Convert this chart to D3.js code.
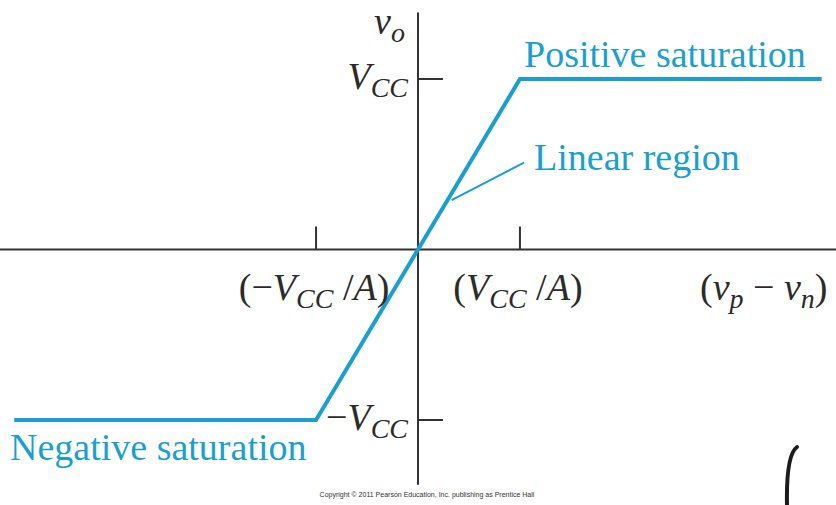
<!DOCTYPE html>
<html>
<head>
<meta charset="UTF-8">
<title>Op-amp transfer characteristic</title>
<script src="https://cdn.jsdelivr.net/npm/d3@7"></script>
<style>
  body { margin: 0; background: #fff; }
  svg { display: block; }
  .axis-line { stroke: #333; stroke-width: 2px; fill: none; }
  .lbl { font-family: "Liberation Serif", "DejaVu Serif", serif; fill: #2b2b2b; }
  .blue { font-family: "Liberation Serif", "DejaVu Serif", serif; fill: #1a9fcf; }
</style>
</head>
<body>
<div id="chart"></div>
<script>
// input (vp - vn) in units of VCC/A, output in units of VCC
var inputs  = [-3.96, -1, 1, 3.96];
var outputs = [-1, -1, 1, 1];
var xTicks = [-1, 1];
var yTicks = [1, -1];
var xTickPrefix = ["(\u2212", "("];
var yTickPrefix = ["", "\u2212"];

var width = 836, height = 505;
var lineColor = "#1a9fcf";
var fs = 38, sub = 28;

var x = d3.scaleLinear().domain([-4.1, 4.1]).range([0, 836]);
var y = d3.scaleLinear().domain([1, -1]).range([79, 420]);

var svg = d3.select("#chart").append("svg")
  .attr("width", width).attr("height", height);

/* axes */
svg.append("line").attr("class", "axis-line")
  .attr("x1", x(-4.1)).attr("x2", x(4.1))
  .attr("y1", y(0)).attr("y2", y(0));
svg.append("line").attr("class", "axis-line")
  .attr("x1", x(0)).attr("x2", x(0))
  .attr("y1", y(1.39)).attr("y2", y(-1.38));

svg.selectAll(".xtick").data(xTicks).enter().append("line")
  .attr("class", "axis-line")
  .attr("x1", function(d) { return x(d); }).attr("x2", function(d) { return x(d); })
  .attr("y1", y(0)).attr("y2", y(0) - 23);

svg.selectAll(".ytick").data(yTicks).enter().append("line")
  .attr("class", "axis-line")
  .attr("x1", x(0)).attr("x2", x(0) + 25)
  .attr("y1", function(d) { return y(d); }).attr("y2", function(d) { return y(d); });

/* transfer curve */
var pts = inputs.map(function(d, i) { return [d, outputs[i]]; });
var line = d3.line()
  .x(function(d) { return x(d[0]); })
  .y(function(d) { return y(d[1]); });

svg.append("path")
  .attr("d", line(pts))
  .attr("fill", "none")
  .attr("stroke", lineColor)
  .attr("stroke-width", 4)
  .attr("stroke-linejoin", "miter");

/* leader for linear region */
svg.append("line")
  .attr("x1", x(0.33)).attr("y1", y(0.29))
  .attr("x2", x(1.04)).attr("y2", y(0.51))
  .attr("stroke", lineColor).attr("stroke-width", 2);

/* blue annotations */
svg.append("text").attr("class", "blue")
  .attr("x", 524).attr("y", 67).attr("font-size", fs)
  .text("Positive saturation");
svg.append("text").attr("class", "blue")
  .attr("x", 534).attr("y", 170).attr("font-size", fs)
  .text("Linear region");
svg.append("text").attr("class", "blue")
  .attr("x", 10).attr("y", 460).attr("font-size", fs)
  .text("Negative saturation");

/* axis labels */
function vcc(xPos, yPos, anchor, prefix, withA) {
  var t = svg.append("text").attr("class", "lbl")
    .attr("x", xPos).attr("y", yPos)
    .attr("font-size", fs).attr("text-anchor", anchor);
  t.append("tspan").text(prefix);
  t.append("tspan").attr("font-style", "italic").text("V");
  t.append("tspan").attr("font-style", "italic").attr("font-size", sub)
    .attr("dy", 8).text("CC");
  if (withA) {
    t.append("tspan").attr("dy", -8).text(" /");
    t.append("tspan").attr("font-style", "italic").text("A");
    t.append("tspan").text(")");
  }
  return t;
}

yTicks.forEach(function(d, i) { vcc(408, y(d) + 10, "end", yTickPrefix[i], false); });
xTicks.forEach(function(d, i) { vcc(x(d) - 2, 300, "middle", xTickPrefix[i], true); });

var vo = svg.append("text").attr("class", "lbl")
  .attr("x", 374).attr("y", 34).attr("font-size", fs).attr("font-style", "italic");
vo.append("tspan").text("v");
vo.append("tspan").attr("font-size", sub).attr("dy", 8).text("o");

var vin = svg.append("text").attr("class", "lbl")
  .attr("x", 700).attr("y", 300).attr("font-size", fs);
vin.append("tspan").text("(");
vin.append("tspan").attr("font-style", "italic").text("v");
vin.append("tspan").attr("font-style", "italic").attr("font-size", sub).attr("dy", 8).text("p");
vin.append("tspan").attr("dy", -8).text(" \u2212 ");
vin.append("tspan").attr("font-style", "italic").text("v");
vin.append("tspan").attr("font-style", "italic").attr("font-size", sub).attr("dy", 8).text("n");
vin.append("tspan").attr("dy", -8).text(")");

/* footer */
svg.append("text")
  .attr("x", 427).attr("y", 497)
  .attr("text-anchor", "middle")
  .attr("font-family", "Liberation Sans, Arial, sans-serif")
  .attr("font-size", 7).attr("fill", "#333")
  .text("Copyright \u00a9 2011 Pearson Education, Inc. publishing as Prentice Hall");

/* stray bracket stroke at bottom right */
svg.append("path")
  .attr("d", "M797,447 Q786,455 787,505")
  .attr("fill", "none")
  .attr("stroke", "#1b1b1b")
  .attr("stroke-width", 4)
  .attr("stroke-linecap", "round");
</script>
</body>
</html>
